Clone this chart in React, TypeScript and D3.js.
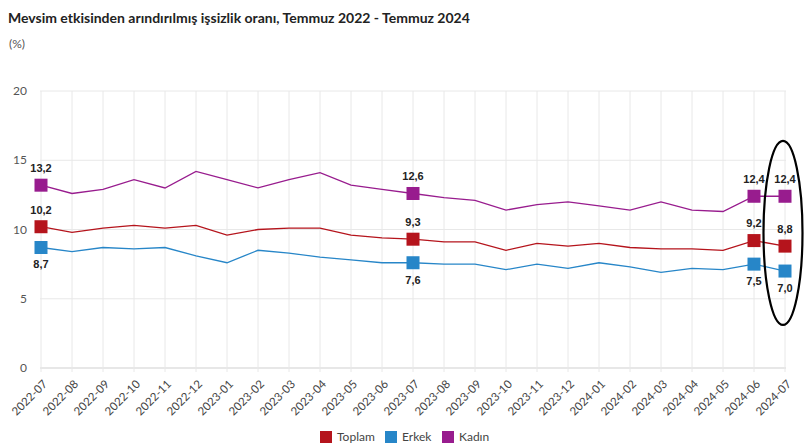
import React from "react";
import * as d3 from "d3";

const months = [
  "2022-07","2022-08","2022-09","2022-10","2022-11","2022-12",
  "2023-01","2023-02","2023-03","2023-04","2023-05","2023-06",
  "2023-07","2023-08","2023-09","2023-10","2023-11","2023-12",
  "2024-01","2024-02","2024-03","2024-04","2024-05","2024-06","2024-07",
];
const toplam = [10.2,9.8,10.1,10.3,10.1,10.3,9.6,10.0,10.1,10.1,9.6,9.4,9.3,9.1,9.1,8.5,9.0,8.8,9.0,8.7,8.6,8.6,8.5,9.2,8.8];
const erkek = [8.7,8.4,8.7,8.6,8.7,8.1,7.6,8.5,8.3,8.0,7.8,7.6,7.6,7.5,7.5,7.1,7.5,7.2,7.6,7.3,6.9,7.2,7.1,7.5,7.0];
const kadin = [13.2,12.6,12.9,13.6,13.0,14.2,13.6,13.0,13.6,14.1,13.2,12.9,12.6,12.3,12.1,11.4,11.8,12.0,11.7,11.4,12.0,11.4,11.3,12.4,12.4];
const yTicks = [0, 5, 10, 15, 20];
const markedIdx = [0, 12, 23, 24];

const series = [
  { name: "Toplam", values: toplam, color: "#b5141c", labelPos: "above" },
  { name: "Erkek", values: erkek, color: "#2786c8", labelPos: "below" },
  { name: "Kadın", values: kadin, color: "#981c8e", labelPos: "above" },
];

const fmt = (v: number) => v.toFixed(1).replace(".", ",");

export default function App() {
  const W = 812, H = 447;
  const x = d3.scalePoint<string>().domain(months).range([41, 785]);
  const y = d3.scaleLinear().domain([0, 20]).range([368, 91]);
  const line = (vals: number[]) =>
    d3.line<number>().x((_, i) => x(months[i])!).y((v) => y(v))(vals) || "";
  const uiFont = "Lato, 'Noto Sans', sans-serif";
  const labelFont = "'Liberation Sans', Arial, sans-serif";
  const lastX = x(months[months.length - 1])!;

  const legendItems = [
    { name: "Toplam", color: series[0].color, x: 320 },
    { name: "Erkek", color: series[1].color, x: 385 },
    { name: "Kadın", color: series[2].color, x: 442 },
  ];

  return (
    <svg width={W} height={H} style={{ position: "absolute", left: 0, top: 0, background: "#fff" }}>
      <text x={8} y={23} fontFamily={uiFont} fontWeight={700} fontSize={14} fill="#222">
        Mevsim etkisinden arındırılmış işsizlik oranı, Temmuz 2022 - Temmuz 2024
      </text>
      <text x={9} y={48} fontFamily={uiFont} fontSize={12} fill="#555">(%)</text>

      {/* grid */}
      {yTicks.map((t) => (
        <g key={t}>
          <line x1={40} x2={786} y1={y(t)} y2={y(t)} stroke={t === 0 ? "#cfcfcf" : "#e8e8e8"} strokeWidth={1} />
          <text x={27} y={y(t)} dy="0.35em" textAnchor="end" fontFamily={uiFont} fontSize={12} fill="#555">{t}</text>
        </g>
      ))}
      {months.map((m) => (
        <g key={m}>
          <line x1={x(m)} x2={x(m)} y1={91} y2={372} stroke="#e8e8e8" strokeWidth={1} />
          <text
            transform={`translate(${x(m)! + 4},${382}) rotate(-45)`}
            textAnchor="end"
            dy="0.35em"
            fontFamily={uiFont}
            fontSize={11.5}
            fill="#444"
          >
            {m}
          </text>
        </g>
      ))}

      {/* lines */}
      {series.map((s) => (
        <path key={s.name} d={line(s.values)} fill="none" stroke={s.color} strokeWidth={1.3} />
      ))}

      {/* markers and labels */}
      {series.map((s) =>
        markedIdx.map((i) => {
          const cx = x(months[i])!;
          const cy = y(s.values[i]);
          return (
            <g key={s.name + i}>
              <rect x={cx - 6.5} y={cy - 6.5} width={13} height={13} fill={s.color} />
              <text
                x={cx}
                y={s.labelPos === "above" ? cy - 17 : cy + 17}
                dy="0.35em"
                textAnchor="middle"
                fontFamily={labelFont}
                fontWeight={700}
                fontSize={11}
                fill="#222"
              >
                {fmt(s.values[i])}
              </text>
            </g>
          );
        })
      )}

      {/* annotation ellipse */}
      <ellipse cx={lastX - 2} cy={y(9.75)} rx={19.5} ry={92} fill="none" stroke="#000" strokeWidth={2.2} />

      {/* legend */}
      {legendItems.map((l) => (
        <g key={l.name}>
          <rect x={l.x} y={431} width={12} height={12} fill={l.color} />
          <text x={l.x + 17} y={437} dy="0.35em" fontFamily={uiFont} fontSize={12} fill="#444">{l.name}</text>
        </g>
      ))}
    </svg>
  );
}
